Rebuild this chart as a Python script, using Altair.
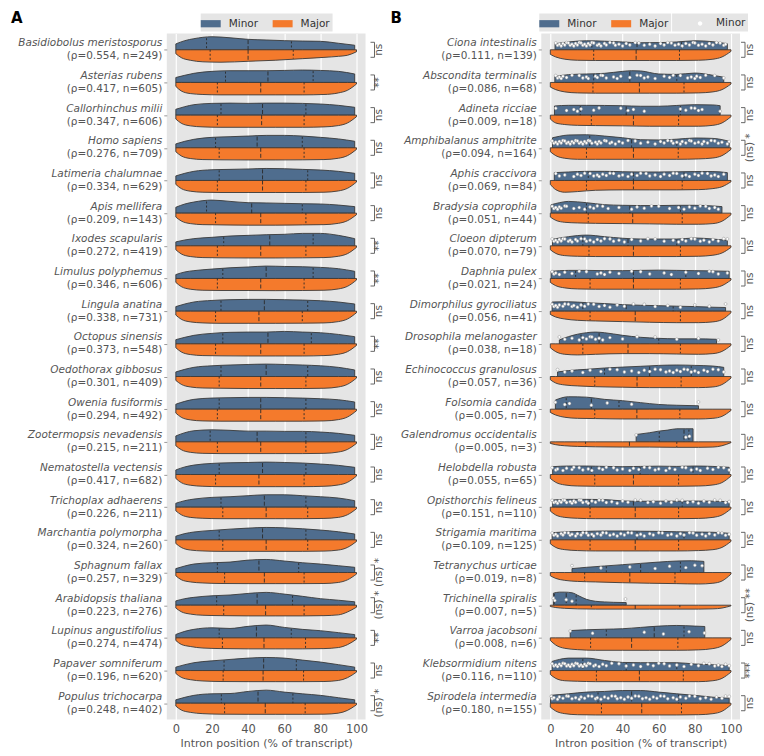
import altair as alt
import pandas as pd
import numpy as np

FONT = "DejaVu Sans"
BLUE = "#4f6d8e"
ORANGE = "#f47a2c"
BG = "#e5e5e5"
EDGE = "#3a3a3a"
TXT = "#555555"
W = 0.40  # row units for a half-height of 1.0

# ---------------- Panel A data ----------------
A_names = ["Basidiobolus meristosporus", "Asterias rubens", "Callorhinchus milii", "Homo sapiens",
           "Latimeria chalumnae", "Apis mellifera", "Ixodes scapularis", "Limulus polyphemus",
           "Lingula anatina", "Octopus sinensis", "Oedothorax gibbosus", "Owenia fusiformis",
           "Zootermopsis nevadensis", "Nematostella vectensis", "Trichoplax adhaerens",
           "Marchantia polymorpha", "Sphagnum fallax", "Arabidopsis thaliana",
           "Lupinus angustifolius", "Papaver somniferum", "Populus trichocarpa"]
A_rho = [0.554, 0.417, 0.347, 0.276, 0.334, 0.209, 0.272, 0.346, 0.338, 0.373, 0.301, 0.294,
         0.215, 0.417, 0.226, 0.324, 0.257, 0.223, 0.274, 0.196, 0.248]
A_n = [249, 605, 606, 709, 629, 143, 419, 606, 731, 548, 409, 492, 211, 682, 211, 260, 329, 276,
       474, 620, 402]
A_sig = ["ns", "**", "ns", "ns", "ns", "ns", "**", "**", "ns", "**", "ns", "ns", "ns", "ns", "ns",
         "ns", "(ns) *", "(ns) *", "**", "ns", "(ns) *"]

A_BX = [0, 5, 10, 20, 30, 40, 50, 60, 70, 80, 90, 99]
A_blue_h = [
    [0.45, 0.7, 0.85, 1.0, 0.92, 0.8, 0.75, 0.7, 0.67, 0.65, 0.5, 0.35],
    [0.38, 0.55, 0.7, 0.85, 0.9, 0.9, 0.9, 0.92, 0.95, 0.92, 0.85, 0.65],
    [0.45, 0.65, 0.8, 0.9, 0.92, 0.9, 0.92, 0.92, 0.9, 0.85, 0.75, 0.6],
    [0.3, 0.5, 0.65, 0.8, 0.85, 0.9, 0.95, 0.95, 0.9, 0.8, 0.68, 0.5],
    [0.35, 0.55, 0.7, 0.82, 0.85, 0.88, 0.92, 0.9, 0.85, 0.8, 0.7, 0.55],
    [0.45, 0.7, 0.85, 1.0, 0.9, 0.8, 0.78, 0.75, 0.72, 0.7, 0.62, 0.5],
    [0.3, 0.45, 0.55, 0.65, 0.75, 0.8, 0.85, 0.88, 0.95, 0.95, 0.8, 0.55],
    [0.3, 0.5, 0.6, 0.72, 0.82, 0.88, 0.95, 0.92, 0.9, 0.85, 0.75, 0.55],
    [0.35, 0.55, 0.7, 0.82, 0.88, 0.9, 0.9, 0.88, 0.85, 0.8, 0.7, 0.55],
    [0.32, 0.5, 0.65, 0.8, 0.88, 0.9, 0.9, 0.95, 0.9, 0.85, 0.72, 0.55],
    [0.35, 0.55, 0.7, 0.82, 0.88, 0.92, 0.95, 0.92, 0.88, 0.82, 0.7, 0.5],
    [0.38, 0.6, 0.75, 0.85, 0.88, 0.9, 0.9, 0.88, 0.85, 0.8, 0.72, 0.55],
    [0.45, 0.7, 0.85, 0.92, 0.88, 0.82, 0.82, 0.8, 0.8, 0.75, 0.65, 0.5],
    [0.35, 0.58, 0.72, 0.85, 0.9, 0.92, 0.95, 0.92, 0.88, 0.8, 0.7, 0.55],
    [0.3, 0.5, 0.62, 0.75, 0.8, 0.88, 0.95, 0.95, 0.88, 0.8, 0.7, 0.5],
    [0.28, 0.48, 0.6, 0.72, 0.82, 0.9, 0.95, 0.92, 0.85, 0.75, 0.62, 0.45],
    [0.3, 0.5, 0.65, 0.75, 0.8, 0.95, 1.0, 0.88, 0.75, 0.65, 0.52, 0.4],
    [0.33, 0.5, 0.6, 0.72, 0.78, 0.9, 0.98, 0.85, 0.68, 0.5, 0.38, 0.26],
    [0.26, 0.5, 0.65, 0.77, 0.72, 0.88, 0.98, 0.8, 0.65, 0.55, 0.4, 0.25],
    [0.26, 0.45, 0.6, 0.74, 0.85, 0.95, 1.0, 0.95, 0.8, 0.65, 0.45, 0.26],
    [0.26, 0.45, 0.6, 0.72, 0.74, 0.9, 1.0, 0.85, 0.72, 0.6, 0.42, 0.26],
]
OX = [0, 3, 8, 15, 25, 40, 55, 70, 82, 90, 95, 100]
A_orange_h = [
    [0.3, 0.6, 0.8, 0.92, 0.95, 0.88, 0.8, 0.68, 0.58, 0.5, 0.42, 0.15],
    [0.3, 0.65, 0.85, 0.92, 0.95, 0.95, 0.95, 0.95, 0.92, 0.8, 0.6, 0.12],
    [0.3, 0.62, 0.82, 0.9, 0.93, 0.93, 0.93, 0.93, 0.9, 0.8, 0.6, 0.12],
    [0.3, 0.62, 0.82, 0.9, 0.92, 0.93, 0.93, 0.92, 0.9, 0.8, 0.6, 0.12],
    [0.3, 0.62, 0.82, 0.9, 0.92, 0.92, 0.92, 0.92, 0.9, 0.8, 0.6, 0.12],
    [0.3, 0.6, 0.8, 0.88, 0.9, 0.92, 0.92, 0.9, 0.88, 0.78, 0.58, 0.12],
    [0.3, 0.62, 0.82, 0.9, 0.92, 0.93, 0.93, 0.92, 0.9, 0.8, 0.6, 0.12],
    [0.3, 0.62, 0.82, 0.9, 0.92, 0.92, 0.93, 0.92, 0.9, 0.8, 0.6, 0.12],
    [0.3, 0.62, 0.82, 0.9, 0.93, 0.93, 0.93, 0.92, 0.9, 0.8, 0.6, 0.12],
    [0.3, 0.62, 0.82, 0.9, 0.92, 0.93, 0.93, 0.93, 0.9, 0.8, 0.6, 0.12],
    [0.3, 0.6, 0.8, 0.88, 0.9, 0.92, 0.92, 0.92, 0.9, 0.8, 0.6, 0.12],
    [0.3, 0.62, 0.82, 0.9, 0.92, 0.92, 0.92, 0.92, 0.9, 0.8, 0.6, 0.12],
    [0.3, 0.6, 0.8, 0.88, 0.9, 0.9, 0.9, 0.9, 0.88, 0.78, 0.58, 0.12],
    [0.3, 0.62, 0.82, 0.9, 0.93, 0.93, 0.93, 0.93, 0.9, 0.8, 0.6, 0.12],
    [0.28, 0.58, 0.78, 0.85, 0.88, 0.88, 0.88, 0.88, 0.86, 0.78, 0.58, 0.12],
    [0.28, 0.58, 0.78, 0.85, 0.88, 0.88, 0.88, 0.88, 0.86, 0.78, 0.58, 0.12],
    [0.25, 0.55, 0.72, 0.8, 0.84, 0.85, 0.85, 0.85, 0.84, 0.76, 0.56, 0.12],
    [0.22, 0.5, 0.68, 0.77, 0.8, 0.82, 0.82, 0.82, 0.8, 0.74, 0.52, 0.15],
    [0.2, 0.5, 0.66, 0.78, 0.82, 0.84, 0.84, 0.84, 0.82, 0.74, 0.52, 0.1],
    [0.22, 0.52, 0.7, 0.8, 0.84, 0.85, 0.85, 0.85, 0.84, 0.76, 0.55, 0.12],
    [0.22, 0.52, 0.7, 0.8, 0.84, 0.85, 0.85, 0.85, 0.84, 0.76, 0.55, 0.12],
]
A_blue_q = [[17, 40, 64], [27.5, 51, 76], [25, 48, 72], [22, 45, 70], [24, 48, 73], [17, 42, 70],
            [26.5, 52, 76], [26, 50, 76], [25, 49, 73], [26, 51, 75], [25, 50, 73], [24, 47, 72],
            [19, 45, 72], [24, 48, 72], [25, 49, 72], [24, 48, 72], [23, 46, 68], [22.6, 45, 64.6],
            [24, 44.6, 63.9], [26.7, 48.6, 66.7], [25.2, 45.5, 64.8]]
A_orange_q = [[19, 40, 65], [23, 47, 71], [23, 47.5, 71], [24, 47, 71], [23, 48, 72], [22, 47, 72],
              [23, 47, 72], [23, 47, 71], [22, 46, 70], [22, 47, 71], [24, 47, 72], [23, 47, 71],
              [23, 47, 72], [22, 46, 71], [26, 50, 73], [26, 50, 73], [27, 49, 71], [26.5, 49.7, 71],
              [25.8, 48.8, 71.8], [26.2, 48.3, 70.7], [27, 49.5, 71.6]]

# ---------------- Panel B data ----------------
B_names = ["Ciona intestinalis", "Abscondita terminalis", "Adineta ricciae", "Amphibalanus amphitrite",
           "Aphis craccivora", "Bradysia coprophila", "Cloeon dipterum", "Daphnia pulex",
           "Dimorphilus gyrociliatus", "Drosophila melanogaster", "Echinococcus granulosus",
           "Folsomia candida", "Galendromus occidentalis", "Helobdella robusta",
           "Opisthorchis felineus", "Strigamia maritima", "Tetranychus urticae",
           "Trichinella spiralis", "Varroa jacobsoni", "Klebsormidium nitens", "Spirodela intermedia"]
B_rho = [0.111, 0.086, 0.009, 0.094, 0.069, 0.051, 0.070, 0.021, 0.056, 0.038, 0.057, 0.005, 0.005,
         0.055, 0.151, 0.109, 0.019, 0.007, 0.008, 0.116, 0.180]
B_n = [139, 68, 18, 164, 84, 44, 79, 24, 41, 18, 36, 7, 3, 65, 110, 125, 8, 5, 6, 110, 155]
B_sig = ["ns", "ns", "ns", "(ns) *", "ns", "ns", "ns", "ns", "ns", "ns", "ns", "ns", "ns", "ns", "ns",
         "ns", "ns", "(ns) **", "ns", "***", "ns"]

B_blue_x = [
    [2.6, 10, 20, 30, 40, 50, 60, 70, 80, 90, 98],
    [2.5, 10, 20, 30, 40, 45, 50, 60, 70, 80, 90, 96],
    [2.3, 10, 20, 30, 40, 50, 60, 70, 80, 90, 94],
    [1.2, 5, 10, 20, 30, 40, 50, 60, 70, 80, 90, 99],
    [2.2, 10, 20, 30, 40, 50, 60, 70, 80, 90, 98],
    [0.4, 5, 10, 20, 30, 40, 50, 60, 70, 80, 90, 95],
    [1.2, 10, 20, 30, 40, 50, 60, 70, 80, 90, 98],
    [0.4, 10, 20, 30, 40, 50, 60, 70, 80, 90, 99],
    [1, 10, 20, 30, 40, 50, 60, 70, 80, 90, 97],
    [5, 10, 20, 25, 30, 40, 50, 60, 70, 80, 92],
    [4, 10, 20, 30, 40, 50, 60, 70, 80, 90, 96],
    [2.8, 10, 20, 30, 40, 50, 60, 70, 82],
    [47.5, 55, 60, 65, 70, 75, 79],
    [1.3, 10, 20, 30, 40, 50, 60, 70, 80, 90, 99],
    [1.3, 10, 20, 30, 40, 50, 60, 70, 80, 90, 99],
    [1, 10, 20, 30, 40, 50, 60, 70, 80, 90, 99],
    [12, 20, 30, 40, 50, 60, 70, 78, 85],
    [1.7, 5, 8, 12, 16, 20, 25, 30, 35, 42],
    [11, 20, 30, 40, 50, 60, 70, 80, 85.5],
    [1, 5, 10, 20, 30, 40, 50, 60, 70, 80, 90, 99],
    [0.1, 10, 20, 30, 40, 50, 60, 70, 80, 90, 99],
]
B_blue_h = [
    [0.46, 0.6, 0.69, 0.66, 0.6, 0.54, 0.55, 0.6, 0.69, 0.62, 0.46],
    [0.45, 0.6, 0.65, 0.7, 0.85, 0.9, 0.88, 0.65, 0.62, 0.72, 0.55, 0.4],
    [0.7, 0.75, 0.75, 0.74, 0.72, 0.68, 0.68, 0.74, 0.8, 0.78, 0.72],
    [0.77, 0.88, 0.98, 1.0, 0.9, 0.77, 0.62, 0.6, 0.66, 0.75, 0.72, 0.5],
    [0.6, 0.65, 0.7, 0.7, 0.67, 0.65, 0.65, 0.66, 0.68, 0.68, 0.6],
    [0.64, 0.8, 0.9, 0.8, 0.65, 0.6, 0.58, 0.58, 0.6, 0.6, 0.55, 0.5],
    [0.5, 0.7, 0.82, 0.7, 0.58, 0.52, 0.52, 0.52, 0.6, 0.52, 0.42],
    [0.55, 0.62, 0.62, 0.6, 0.6, 0.62, 0.64, 0.62, 0.6, 0.58, 0.55],
    [0.7, 0.72, 0.65, 0.58, 0.5, 0.45, 0.42, 0.38, 0.35, 0.3, 0.28],
    [0.3, 0.55, 0.85, 0.9, 0.85, 0.65, 0.5, 0.42, 0.38, 0.38, 0.35],
    [0.35, 0.45, 0.55, 0.65, 0.72, 0.78, 0.85, 0.88, 0.85, 0.8, 0.7],
    [0.7, 0.95, 0.92, 0.75, 0.65, 0.5, 0.36, 0.3, 0.26],
    [0.56, 0.7, 0.82, 0.9, 1.0, 1.0, 1.0],
    [0.6, 0.65, 0.65, 0.62, 0.6, 0.62, 0.64, 0.62, 0.65, 0.62, 0.55],
    [0.55, 0.6, 0.6, 0.58, 0.48, 0.45, 0.46, 0.46, 0.47, 0.46, 0.42],
    [0.55, 0.62, 0.65, 0.68, 0.68, 0.66, 0.65, 0.62, 0.6, 0.58, 0.5],
    [0.3, 0.4, 0.5, 0.6, 0.7, 0.8, 0.88, 0.9, 0.85],
    [0.92, 1.0, 1.0, 0.95, 0.7, 0.45, 0.3, 0.25, 0.22, 0.2],
    [0.56, 0.62, 0.66, 0.7, 0.8, 0.9, 0.95, 0.9, 0.87],
    [0.7, 0.85, 0.95, 0.95, 0.77, 0.62, 0.6, 0.6, 0.6, 0.5, 0.44, 0.38],
    [0.6, 0.72, 0.85, 0.9, 0.97, 0.97, 0.85, 0.72, 0.6, 0.46, 0.38],
]
B_orange_h = [
    [0.35, 0.55, 0.72, 0.8, 0.82, 0.82, 0.82, 0.82, 0.8, 0.72, 0.55, 0.12],
    [0.35, 0.55, 0.72, 0.8, 0.82, 0.82, 0.82, 0.82, 0.8, 0.72, 0.55, 0.12],
    [0.3, 0.6, 0.72, 0.78, 0.8, 0.82, 0.85, 0.85, 0.85, 0.78, 0.6, 0.12],
    [0.3, 0.6, 0.8, 0.88, 0.88, 0.88, 0.88, 0.88, 0.85, 0.78, 0.6, 0.12],
    [0.3, 0.7, 0.9, 0.85, 0.75, 0.72, 0.72, 0.72, 0.7, 0.62, 0.48, 0.1],
    [0.3, 0.55, 0.7, 0.75, 0.78, 0.8, 0.82, 0.85, 0.85, 0.8, 0.62, 0.12],
    [0.3, 0.58, 0.75, 0.8, 0.82, 0.82, 0.82, 0.82, 0.8, 0.72, 0.55, 0.12],
    [0.3, 0.55, 0.72, 0.8, 0.82, 0.82, 0.82, 0.82, 0.8, 0.72, 0.55, 0.12],
    [0.25, 0.45, 0.6, 0.7, 0.75, 0.8, 0.85, 0.88, 0.88, 0.82, 0.65, 0.12],
    [0.3, 0.6, 0.8, 0.85, 0.8, 0.75, 0.75, 0.78, 0.8, 0.75, 0.58, 0.12],
    [0.25, 0.5, 0.65, 0.72, 0.78, 0.82, 0.85, 0.85, 0.85, 0.8, 0.62, 0.12],
    [0.25, 0.45, 0.62, 0.7, 0.72, 0.75, 0.75, 0.75, 0.75, 0.7, 0.55, 0.1],
    [0.12, 0.22, 0.3, 0.35, 0.38, 0.4, 0.4, 0.42, 0.42, 0.4, 0.3, 0.06],
    [0.3, 0.6, 0.8, 0.88, 0.9, 0.9, 0.9, 0.9, 0.88, 0.8, 0.62, 0.12],
    [0.3, 0.6, 0.78, 0.85, 0.88, 0.88, 0.88, 0.88, 0.86, 0.78, 0.6, 0.12],
    [0.3, 0.58, 0.75, 0.82, 0.85, 0.85, 0.85, 0.85, 0.82, 0.75, 0.58, 0.12],
    [0.25, 0.45, 0.6, 0.68, 0.72, 0.78, 0.82, 0.85, 0.88, 0.82, 0.65, 0.12],
    [0.1, 0.18, 0.24, 0.28, 0.3, 0.3, 0.3, 0.3, 0.3, 0.28, 0.22, 0.05],
    [0.2, 0.55, 0.8, 0.9, 0.95, 0.95, 0.95, 0.95, 0.92, 0.82, 0.62, 0.12],
    [0.3, 0.6, 0.78, 0.82, 0.85, 0.85, 0.85, 0.85, 0.85, 0.78, 0.6, 0.12],
    [0.3, 0.6, 0.8, 0.88, 0.9, 0.9, 0.9, 0.9, 0.88, 0.8, 0.62, 0.12],
]
B_blue_q = [[23, 48, 72.6], [24, 44, 70], [16.6, 42, 72], [21.8, 45, 70], [21, 46, 74], [20, 44, 72],
            [18, 43, 70], [14, 46, 75], [18, 42, 68], [17, 27, 60], [30, 55, 78], [8.8, 22.7, 38],
            [60.3, 74, 76.7], [22.7, 49.7, 79], [21.8, 46, 73], [23, 48, 74], [31, 50, 72],
            [2.2, 8.8, 14.3], [31, 57.5, 74], [18, 42, 70], [26.4, 45, 71]]
B_orange_q = [[24, 47.5, 71.5], [23.6, 49.3, 74], [22.7, 46, 71], [20, 46, 70.8], [20, 46, 73],
              [21, 45.6, 73], [21.4, 46, 72], [22, 46, 72], [22, 47, 72], [18, 43, 72],
              [24.6, 48, 72.4], [24.6, 47.9, 71.7], [19.5, 43.8, 70], [24.6, 46, 71], [22, 47, 71],
              [22, 47, 71], [19, 44, 69], [22.7, 47, 71.7], [22.3, 45, 70.6], [25.5, 49.3, 73.6],
              [28.3, 50.6, 72.6]]
B_dots = [
    "3 4 5 6 7 8 9 10 11 12 13 14 15 16 17 18 19 20 21 22 23 24 26 27 28 30 31 33 35 36 38 40 42 44 47 49 52 55 58 61 63 65 67 69 71 73 75 77 79 80 82 84 86 88 90 92 94 96 97",
    "3 4 5 6 7 9 12 16 18 20 21 25 26 28 29 31 35 37 39 44 48 50 52 54 58 63 66 68 72 76 78 80 81 83 86 91 96",
    "3 9 13 15 17 24 27 39 43 46 52 72 75 78 80 82 84 94",
    "1 2 3 4 5 6 7 8 9 10 11 12 13 14 15 16 17 18 19 20 21 22 23 25 26 27 28 30 31 33 34 36 38 40 43 47 50 54 58 61 63 65 67 68 70 72 73 75 77 78 80 82 84 85 87 89 91 93 95 98 99",
    "3 5 8 13 15 17 19 22 24 26 27 29 31 33 35 38 40 43 45 48 50 53 55 58 61 63 66 68 70 73 75 77 80 82 84 87 89 91 93 96",
    "1 2 3 4 5 6 8 9 13 16 19 22 24 26 29 32 38 45 48 52 56 60 66 71 74 77 80 83 86 88 91 93",
    "1 2 3 4 5 6 7 8 10 11 12 14 15 17 19 20 22 24 26 28 30 33 35 38 41 45 50 54 58 63 68 71 73 75 78 80 83 85 88 90 93 96 98",
    "1 2 3 5 8 12 16 20 26 28 30 33 38 45 50 55 63 67 75 82 88 90 93 98",
    "1 2 3 4 5 7 8 10 12 13 15 17 19 21 24 27 30 33 37 41 46 52 58 65 72 80 88 97",
    "5 8 12 16 18 20 22 23 25 27 29 33 40 48 58 70 82 93",
    "4 8 12 18 22 28 33 37 41 45 49 52 55 58 61 64 66 68 70 72 74 76 78 80 82 85 87 90 93 96",
    "2.8 8 10.6 22.7 31.5 45 82",
    "47.5 75 77",
    "1 3 4 7 9 12 13 16 18 21 23 27 29 31 35 37 40 44 46 49 52 55 58 60 64 66 69 73 75 78 81 83 87 90 93 96 99",
    "1 2 3 4 5 6 7 8 9 11 12 13 14 16 17 18 20 21 23 25 27 29 31 34 37 40 43 47 50 54 57 61 64 67 70 73 76 79 82 85 88 91 94 97 99",
    "1 2 3 4 6 7 8 10 11 12 14 15 17 18 20 21 23 24 26 28 29 31 33 35 37 39 41 43 45 48 50 52 55 57 60 62 65 67 70 72 74 77 79 81 84 86 88 91 93 95 97 99",
    "12 28 44 58 66 75 80 84",
    "1.7 2.5 8.8 12 41.6",
    "11 23.4 52 62.6 76.8 85.3",
    "1 2 3 4 5 6 7 8 9 10 11 12 13 14 15 16 17 18 19 20 21 22 24 25 27 29 31 34 38 42 46 50 54 57 60 63 66 70 74 78 82 85 88 91 93 95 97 99",
    "0.5 1 2 4 5 7 9 10 12 14 16 17 19 21 23 25 26 28 30 32 34 36 37 39 41 43 45 47 49 51 53 55 57 59 61 63 65 68 70 72 75 77 80 83 86 89 92 95 97 99",
]

XTICKS = [0, 20, 40, 60, 80, 100]
PW, PH = 199, 687
XS = alt.Scale(domain=[-5, 105], nice=False, zero=False)
YS = alt.Scale(domain=[-0.5, 20.5], reverse=True, nice=False, zero=False)
X_AXIS = alt.Axis(values=XTICKS, grid=True, gridColor="white", gridWidth=1.2, domain=False, ticks=False,
                  labelPadding=4, titlePadding=2, labelOverlap=False, labelFontSize=11.5,
                  titleFontSize=11, labelColor=TXT, titleColor=TXT, titleFontWeight="normal",
                  labelFont=FONT, titleFont=FONT, title="Intron position (% of transcript)")
Y_AXIS = alt.Axis(values=list(range(21)), labels=False, ticks=True, tickSize=3, tickColor="#999999",
                  domain=False, grid=False, title=None)
RECT = "M-1.25,-0.45L1.25,-0.45L1.25,0.45L-1.25,0.45Z"
DOT = "M-0.28,0A0.28,0.28 0 1,0 0.28,0A0.28,0.28 0 1,0 -0.28,0Z"


def X(field):
    return alt.X(field, type="quantitative", scale=XS, axis=X_AXIS)


def Y(field, **kw):
    return alt.Y(field, type="quantitative", scale=YS, axis=Y_AXIS, **kw)


def legend(x, y):
    return alt.Legend(orient="none", legendX=x, legendY=y, direction="horizontal", title=None,
                      fillColor=BG, padding=2, symbolType=RECT, symbolSize=256,
                      symbolStrokeWidth=0, symbolOpacity=1, labelFontSize=10.5, labelColor="#333333",
                      labelFont=FONT, labelOffset=10, columnPadding=14)


def panel(letter, names, rho, n, sig, bxs, bhs, ohs, bq, oq, dots, leg_x, sig_x, letter_x,
          dot_leg_x=None):
    area_recs, q_recs, dot_recs = [], [], []
    for i in range(len(names)):
        for x, h in zip(bxs[i], bhs[i]):
            area_recs.append(dict(key=f"{i}a", half="Minor", x=x, lo=i - h * W, hi=i))
        for x, h in zip(OX, ohs[i]):
            area_recs.append(dict(key=f"{i}b", half="Major", x=x, lo=i, hi=i + h * W))
        for j, q in enumerate(bq[i]):
            h = float(np.interp(q, bxs[i], bhs[i]))
            q_recs.append(dict(x=q, y1=i - h * W * 0.93, y2=i, kind="m" if j == 1 else "q"))
        for j, q in enumerate(oq[i]):
            h = float(np.interp(q, OX, ohs[i]))
            q_recs.append(dict(x=q, y1=i, y2=i + h * W * 0.93, kind="m" if j == 1 else "q"))
        if dots is not None:
            jit = [-0.04, 0.03, 0.0, 0.05, -0.02, 0.02, -0.05]
            for k, v in enumerate(dots[i].split()):
                dot_recs.append(dict(x=float(v), y=i - 0.17 + jit[k % 7], kind="Minor"))
    area_df = pd.DataFrame(area_recs)
    q_df = pd.DataFrame(q_recs)
    lab_df = pd.DataFrame(dict(row=list(range(len(names))), name=names,
                               stats=[f"(ρ={r:.3f}, n={k})" for r, k in zip(rho, n)], sig=sig))
    lab_df["ya"] = lab_df["row"] - 0.23
    lab_df["yb"] = lab_df["row"] + 0.23

    area = alt.Chart(area_df).mark_area(interpolate="monotone", stroke=EDGE, strokeWidth=0.9,
                                        orient="vertical", opacity=1, fillOpacity=1).encode(
        x=X("x"), y=Y("lo", stack=None), y2="hi:Q",
        color=alt.Color("half:N", scale=alt.Scale(domain=["Minor", "Major"], range=[BLUE, ORANGE]),
                        legend=legend(leg_x, -20)),
        detail="key:N",
    )
    quart = alt.Chart(q_df).mark_rule(color="#2a2a2a", strokeWidth=0.9).encode(
        x=X("x"), y=Y("y1"), y2="y2:Q",
        strokeDash=alt.StrokeDash("kind:N", scale=alt.Scale(domain=["q", "m"], range=[[2, 2], [4, 2]]),
                                  legend=None),
    )
    base = alt.Chart(lab_df)
    t1 = base.mark_text(align="right", baseline="middle", dy=-6.5, fontStyle="italic", fontSize=10.5,
                        color=TXT, font=FONT).encode(x=alt.value(-4.5), y=Y("row"), text="name:N")
    t2 = base.mark_text(align="right", baseline="middle", dy=6.5, fontSize=10.5, color=TXT,
                        font=FONT).encode(x=alt.value(-4.5), y=Y("row"), text="stats:N")
    st = base.mark_text(angle=270, align="center", baseline="middle", fontSize=10.5, color=TXT,
                        font=FONT).encode(x=alt.value(sig_x + 5), y=Y("row"), text="sig:N")
    br = base.mark_rule(color="#666666", strokeWidth=1).encode(
        x=alt.value(sig_x), y=Y("ya"), y2="yb:Q")
    br1 = base.mark_rule(color="#666666", strokeWidth=1).encode(
        x=alt.value(sig_x - 4), x2=alt.value(sig_x), y=Y("ya"))
    br2 = base.mark_rule(color="#666666", strokeWidth=1).encode(
        x=alt.value(sig_x - 4), x2=alt.value(sig_x), y=Y("yb"))
    let = alt.Chart(pd.DataFrame(dict(t=[letter]))).mark_text(
        align="left", baseline="top", fontSize=15, fontWeight="bold", color="black", font=FONT).encode(
        x=alt.value(letter_x), y=alt.value(-22), text="t:N")
    layers = [area, quart]
    if dots is not None:
        dot_df = pd.DataFrame(dot_recs)
        pts = alt.Chart(dot_df).mark_point(filled=True, fill="white", stroke="#8f8f8f", strokeWidth=0.5,
                                           size=115, opacity=1).encode(
            x=X("x"), y=Y("y"),
            shape=alt.Shape("kind:N", scale=alt.Scale(domain=["Minor"], range=[DOT]),
                            legend=alt.Legend(orient="none", legendX=dot_leg_x, legendY=-20,
                                              direction="horizontal", title=None, fillColor=BG,
                                              padding=2, symbolSize=256, symbolOffset=18,
                                              symbolFillColor="white", symbolStrokeWidth=0,
                                              symbolOpacity=1, labelFontSize=10.5,
                                              labelColor="#333333", labelFont=FONT, labelOffset=8)),
        )
        layers.append(pts)
    layers += [t1, t2, br, br1, br2, st, let]
    return alt.layer(*layers).properties(width=PW, height=PH)


pA = panel("A", A_names, A_rho, A_n, A_sig, [A_BX] * 21, A_blue_h, A_orange_h, A_blue_q, A_orange_q,
           None, leg_x=34, sig_x=208, letter_x=-156)
pB = panel("B", B_names, B_rho, B_n, B_sig, B_blue_x, B_blue_h, B_orange_h, B_blue_q, B_orange_q,
           B_dots, leg_x=-2, sig_x=204, letter_x=-151, dot_leg_x=131)

chart = alt.hconcat(pA, pB, spacing=176, bounds="flush").resolve_scale(
    color="independent", shape="independent", x="independent", y="independent").resolve_legend(
    color="independent").properties(padding={"left": 3, "top": 3, "right": 0, "bottom": 0}).configure(
    font=FONT).configure_view(fill=BG, stroke=None, strokeWidth=0).configure_axis(
    labelFont=FONT, titleFont=FONT, labelColor=TXT, titleColor=TXT, titleFontWeight="normal")

chart.save("out.html", embed_options={"renderer": "svg", "actions": False})
